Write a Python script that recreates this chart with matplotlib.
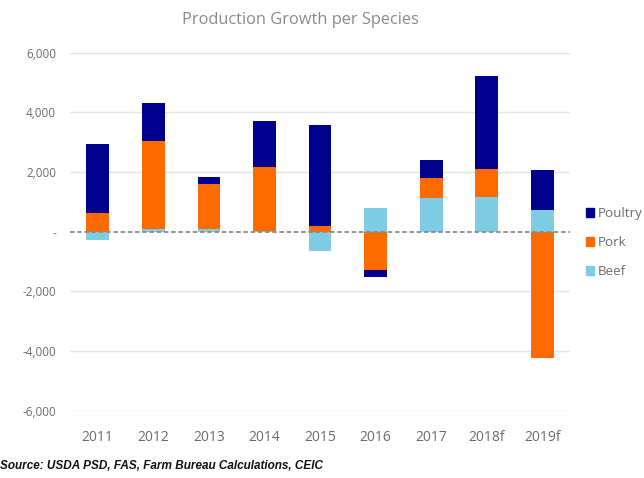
import matplotlib
matplotlib.use("Agg")
import matplotlib.pyplot as plt
import numpy as np
from matplotlib.patches import Patch

years = ["2011", "2012", "2013", "2014", "2015", "2016", "2017", "2018f", "2019f"]
beef = [-280, 100, 100, 20, -640, 780, 1120, 1150, 730]
pork = [640, 2940, 1490, 2160, 200, -1280, 690, 940, -4240]
poultry = [2300, 1260, 250, 1540, 3360, -230, 590, 3140, 1340]
yticks = [-6000, -4000, -2000, 0, 2000, 4000, 6000]
ytick_labels = ["-6,000", "-4,000", "-2,000", "-", "2,000", "4,000", "6,000"]

series = [("Beef", beef, "#7fcde3"), ("Pork", pork, "#ff6a00"), ("Poultry", poultry, "#00008f")]

plt.rcParams['font.family'] = ['Open Sans', 'DejaVu Sans']
fig = plt.figure(figsize=(6.44, 4.78), dpi=100)
ax = fig.add_axes([0.1087, 0.1408, 0.7764, 0.749])

x = np.arange(len(years))
pos_base = np.zeros(len(years))
neg_base = np.zeros(len(years))
for name, vals, col in series:
    v = np.array(vals, dtype=float)
    bottoms = np.where(v >= 0, pos_base, neg_base)
    ax.bar(x, v, bottom=bottoms, width=0.41, color=col, zorder=3)
    pos_base = pos_base + np.where(v >= 0, v, 0)
    neg_base = neg_base + np.where(v < 0, v, 0)

ax.set_xlim(-0.5, len(years) - 0.5)
ax.set_ylim(-6000, 6000)
ax.set_yticks(yticks)
ax.set_yticklabels(ytick_labels)
ax.set_xticks(x)
ax.set_xticklabels(years)
for t in yticks:
    if t != 0:
        ax.axhline(t, color="#e3e3e3", lw=1, zorder=1)
ax.axhline(0, color="#8a8a8a", lw=1.3, ls=(0, (2.5, 1.5)), zorder=4)
for s in ax.spines.values():
    s.set_visible(False)
ax.tick_params(axis="both", length=0, colors="#6b6b6b")
ax.tick_params(axis="y", pad=10, labelsize=8.5)
ax.tick_params(axis="x", pad=14, labelsize=10)

fig.text(0.466, 0.958, "Production Growth per Species", ha="center", va="center",
         fontsize=11.8, color="#8a8a8a")

handles = [Patch(color=c, label=n) for n, _, c in reversed(series)]
leg = fig.legend(handles=handles, loc="upper left", bbox_to_anchor=(0.902, 0.578),
                 frameon=False, fontsize=9.6, handlelength=0.6, handleheight=0.6,
                 handletextpad=0.3, labelspacing=1.2, borderaxespad=0)
for t in leg.get_texts():
    t.set_color("#6b6b6b")

fig.text(0.0, 0.025, "Source: USDA PSD, FAS, Farm Bureau Calculations, CEIC",
         ha="left", va="center", fontsize=8.5, fontweight="bold", fontstyle="italic",
         family=["Liberation Sans", "DejaVu Sans"], color="#111111")

fig.savefig("out.png", dpi=100)
